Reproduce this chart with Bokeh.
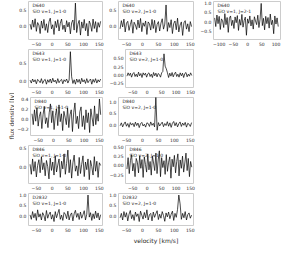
import math
from bokeh.plotting import figure
from bokeh.models import Range1d, FixedTicker, Label
from bokeh.layouts import column, row
from bokeh.embed import file_html
from bokeh.resources import INLINE

# velocity channels [km/s]
vel_10 = [-70, -66, -62, -58, -54, -50, -46, -42, -38, -34, -30, -26, -22, -18, -14, -10, -6, -2,
          2, 6, 10, 14, 18, 22, 26, 30, 34, 38, 42, 46, 50, 54, 58, 62, 66, 70, 74, 78, 82, 86,
          90, 94, 98, 102, 106, 110, 114, 118, 122, 126, 130, 134, 138, 142, 146, 150, 154]
vel_21 = [-116, -112, -108, -104, -100, -96, -92, -88, -84, -80, -76, -72, -68, -64, -60, -56,
          -52, -48, -44, -40, -36, -32, -28, -24, -20, -16, -12, -8, -4, 0, 4, 8, 12, 16, 20,
          24, 28, 32, 36, 40, 44, 48, 52, 56, 60, 64, 68, 72, 76, 80, 84, 88, 92, 96, 100, 104, 108]

# flux density [Jy]
d640_v1_10 = [0.05, -0.12, 0.18, -0.05, 0.22, -0.18, 0.10, 0.02, -0.25, 0.15,
              -0.08, 0.20, -0.15, 0.06, -0.22, 0.12, 0.24, -0.10, 0.03, -0.28,
              0.14, -0.06, 0.19, -0.17, 0.08, 0.21, -0.12, 0.02, -0.20, 0.16,
              -0.04, 0.11, -0.26, 0.09, 0.18, -0.14, 0.72, -0.22, 0.05, 0.17,
              -0.30, 0.12, -0.08, 0.20, -0.16, 0.07, -0.33, 0.15, 0.04, -0.18,
              0.21, -0.09, 0.13, -0.21, 0.10, -0.05, 0.14]
d640_v2_10 = [-0.10, 0.16, -0.04, 0.21, -0.20, 0.08, 0.14, -0.15, 0.03, 0.19,
              -0.24, 0.11, 0.02, -0.12, 0.18, -0.07, 0.23, -0.19, 0.09, -0.02,
              0.15, -0.28, 0.12, 0.06, -0.14, 0.20, -0.09, 0.17, -0.22, 0.04,
              0.13, -0.17, 0.08, 0.22, -0.11, 0.05, 0.66, -0.18, 0.10, -0.06,
              0.19, -0.25, 0.07, 0.15, -0.13, 0.24, -0.20, 0.02, 0.12, -0.31,
              0.09, 0.16, -0.11, 0.06, -0.19, 0.13, -0.03]
d640_v1_21 = [0.20, -0.25, 0.35, -0.10, 0.28, -0.40, 0.15, 0.05, -0.30, 0.42,
              -0.15, 0.22, -0.55, 0.18, 0.30, -0.20, 0.08, -0.35, 0.25, -0.05,
              0.32, -0.45, 0.12, -0.18, 0.38, -0.28, 0.06, 0.24, -0.70, 0.15,
              -0.08, 0.30, -0.22, 0.10, -0.38, 0.26, 0.04, -0.15, 0.34, -0.30,
              0.12, 0.95, -0.20, 0.18, -0.42, 0.28, -0.10, 0.22, -0.33, 0.40,
              -0.15, 0.08, -0.62, 0.30, -0.12, 0.20, -0.25]
d643_v1_10 = [0.03, -0.05, 0.06, -0.02, 0.04, -0.07, 0.05, 0.01, -0.04, 0.07,
              -0.06, 0.02, 0.05, -0.08, 0.04, -0.03, 0.06, -0.05, 0.08, -0.02,
              0.03, -0.06, 0.07, -0.04, 0.02, 0.05, -0.07, 0.04, -0.01, 0.06,
              -0.05, 0.03, 0.80, 0.12, -0.06, 0.04, -0.08, 0.06, -0.03, 0.05,
              -0.07, 0.08, -0.02, 0.04, -0.06, 0.07, -0.04, 0.02, 0.06, -0.08,
              0.05, -0.03, 0.07, -0.05, 0.04, -0.02, 0.06]
d643_v2_10 = [-0.04, 0.06, -0.02, 0.05, -0.07, 0.03, 0.07, -0.05, 0.02, -0.06,
              0.08, -0.03, 0.04, -0.08, 0.06, -0.01, 0.05, -0.07, 0.03, 0.06,
              -0.05, 0.02, -0.08, 0.07, -0.03, 0.05, -0.06, 0.04, 0.01, -0.07,
              0.06, 0.10, 0.63, 0.26, 0.18, 0.06, -0.08, 0.05, -0.04, 0.07,
              -0.06, 0.03, 0.08, -0.05, 0.02, -0.07, 0.06, -0.03, 0.05, -0.08,
              0.04, 0.07, -0.06, 0.02, -0.04, 0.06, -0.02]
d840_v1_10 = [0.10, -0.12, 0.18, -0.05, 0.22, -0.15, 0.05, 0.14, -0.20, 0.08,
              0.25, -0.10, 0.02, -0.18, 0.12, 0.30, -0.08, 0.16, -0.22, 0.06,
              0.20, -0.14, 0.28, -0.06, 0.10, -0.24, 0.15, 0.03, -0.12, 0.22,
              -0.18, 0.08, 0.18, -0.26, 0.12, 0.32, -0.10, 0.05, -0.20, 0.14,
              0.24, -0.16, 0.06, -0.22, 0.18, -0.08, 0.12, -0.28, 0.20, 0.02,
              -0.15, 0.26, -0.12, 0.10, -0.05, 0.40, 0.08]
d840_v2_10 = [-0.05, 0.08, -0.10, 0.03, 0.12, -0.07, 0.05, -0.12, 0.09, -0.02,
              0.06, -0.09, 0.11, -0.04, 0.07, -0.13, 0.04, 0.10, -0.06, 0.02,
              -0.11, 0.08, 0.05, -0.08, 0.12, -0.03, 0.06, -0.10, 1.25, -0.25,
              0.09, -0.06, 0.03, 0.11, -0.09, 0.05, -0.04, 0.13, -0.07, 0.08,
              -0.12, 0.06, 0.14, -0.05, 0.09, -0.10, 0.04, 0.12, -0.08, 0.07,
              -0.03, 0.10, -0.11, 0.06, 0.02, -0.08, 0.09]
d846_v1_10 = [0.08, -0.18, 0.22, -0.10, 0.15, -0.25, 0.05, 0.20, -0.14, 0.28,
              -0.06, 0.12, -0.22, 0.18, 0.02, -0.30, 0.24, -0.08, 0.14, -0.20,
              0.30, -0.12, 0.06, 0.22, -0.26, 0.16, -0.04, 0.35, -0.18, 0.10,
              0.45, -0.14, 0.20, -0.28, 0.12, 0.32, -0.10, 0.04, -0.22, 0.26,
              -0.16, 0.08, 0.30, -0.24, 0.14, -0.06, 0.22, -0.32, 0.18, 0.02,
              -0.20, 0.28, -0.10, 0.16, -0.26, 0.12, 0.05]
d846_v2_10 = [-0.10, 0.20, -0.22, 0.12, 0.28, -0.15, 0.05, -0.30, 0.18, 0.08,
              -0.20, 0.25, -0.08, 0.15, -0.32, 0.22, 0.02, -0.18, 0.30, -0.12,
              0.10, -0.26, 0.24, 0.06, -0.14, 0.32, -0.22, 0.14, 0.38, -0.30,
              0.20, -0.06, 0.12, -0.24, 0.28, -0.16, 0.08, 0.22, -0.34, 0.16,
              -0.04, 0.26, -0.20, 0.10, 0.30, -0.28, 0.14, -0.08, 0.24, -0.18,
              0.06, 0.32, -0.14, 0.18, -0.30, 0.10, -0.05]
d2832_v1_10 = [0.05, -0.15, 0.20, -0.08, 0.12, -0.20, 0.28, -0.05, 0.10, -0.18,
               0.15, 0.02, -0.22, 0.25, -0.10, 0.08, 0.18, -0.14, 0.06, -0.25,
               0.20, -0.08, 0.12, 0.30, -0.15, 0.04, -0.20, 0.16, 0.08, -0.12,
               0.22, -0.18, 0.05, 0.14, -0.22, 0.10, 0.26, -0.06, 0.12, -0.16,
               0.18, -0.10, 0.06, 0.24, -0.18, 0.08, 0.95, -0.05, 0.15, -0.20,
               0.10, -0.12, 0.22, -0.08, 0.14, -0.18, 0.06]
d2832_v2_10 = [-0.08, 0.12, -0.18, 0.20, -0.05, 0.15, -0.22, 0.08, 0.25, -0.12,
               0.06, -0.20, 0.18, -0.02, 0.10, -0.25, 0.22, 0.04, -0.14, 0.16,
               -0.08, 0.28, -0.18, 0.06, 0.12, -0.22, 0.18, -0.06, 0.10, 0.24,
               -0.16, 0.08, -0.10, 0.20, 0.02, -0.24, 0.14, -0.04, 0.18, -0.12,
               0.08, 0.22, -0.20, 0.12, -0.06, 0.30, 0.95, 0.55, -0.15, 0.12,
               -0.08, 0.20, -0.18, 0.06, 0.14, -0.10, 0.04]

# tick labels
xticks_10 = [-50, 0, 50, 100, 150]
xlabels_10 = ["\u221250", "0", "50", "100", "150"]
xticks_21 = [-100, -50, 0, 50, 100]
xlabels_21 = ["\u2212100", "\u221250", "0", "50", "100"]
yt_a = [0.0, 0.5]
yl_a = ["0.0", "0.5"]
yt_b = [-0.25, 0.0, 0.25, 0.5]
yl_b = ["\u22120.25", "0.00", "0.25", "0.50"]
yt_c = [-0.2, 0.0, 0.2, 0.4]
yl_c = ["\u22120.2", "0.0", "0.2", "0.4"]
yt_d = [0.0, 0.5, 1.0]
yl_d = ["0.0", "0.5", "1.0"]
yt_e = [-0.5, 0.0, 0.5, 1.0]
yl_e = ["\u22120.5", "0.0", "0.5", "1.0"]

TXT = "#262626"
FONT = "DejaVu Sans"
TICK_FS = "4.5px"


def panel(vel, flux, src, line, xr, yr, xt, xl, yt, yl, left, right, top, bottom, fw, fh,
          xlabel=None):
    p = figure(width=left + fw + right, height=top + fh + bottom,
               x_range=Range1d(*xr), y_range=Range1d(*yr),
               output_backend="svg", toolbar_location=None,
               min_border_left=left, min_border_right=right,
               min_border_top=top, min_border_bottom=bottom)
    p.grid.visible = False
    p.outline_line_color = "#cccccc"
    p.outline_line_width = 1
    p.background_fill_color = "white"
    p.border_fill_color = "white"
    for ax in (p.xaxis[0], p.yaxis[0]):
        ax.axis_line_color = None
        ax.major_tick_line_color = None
        ax.major_tick_out = 0
        ax.major_tick_in = 0
        ax.minor_tick_line_color = None
        ax.major_label_standoff = 2
        ax.major_label_text_font = FONT
        ax.major_label_text_font_size = TICK_FS
        ax.major_label_text_color = TXT
        ax.axis_label_text_font = FONT
        ax.axis_label_text_font_size = "6px"
        ax.axis_label_text_font_style = "normal"
        ax.axis_label_text_color = TXT
        ax.axis_label_standoff = 2
    p.xaxis[0].ticker = FixedTicker(ticks=xt, minor_ticks=[])
    p.xaxis[0].major_label_overrides = {t: s for t, s in zip(xt, xl)}
    p.yaxis[0].ticker = FixedTicker(ticks=yt, minor_ticks=[])
    p.yaxis[0].major_label_overrides = {t: s for t, s in zip(yt, yl)}
    if xlabel:
        p.xaxis[0].axis_label = xlabel
    p.line(vel, flux, line_color="black", line_width=0.7, line_alpha=1.0)
    p.add_layout(Label(x=xr[0], y=yr[1], x_offset=4, y_offset=-1.5, text=src,
                       text_baseline="top", text_font=FONT, text_font_size=TICK_FS,
                       text_color=TXT))
    p.add_layout(Label(x=xr[0], y=yr[1], x_offset=4, y_offset=-7, text=line,
                       text_baseline="top", text_font=FONT, text_font_size=TICK_FS,
                       text_color=TXT))
    return p


XR10 = (-75, 160)
XR21 = (-120, 116)
FH = 40
# column geometry: (left border, frame width, right border)
C1 = (14, 74, 4)
C2 = (12, 75, 4)
C3 = (12, 71, 2)
TOTAL_H = 48 * 4 + 54


def mk(col, vel, flux, src, line, xr, yr, xt, xl, yt, yl, last=False, xlabel=None):
    left, fw, right = col
    return panel(vel, flux, src, line, xr, yr, xt, xl, yt, yl, left, right, 1, 13 if last else 7,
                 fw, FH, xlabel=xlabel)


p11 = mk(C1, vel_10, d640_v1_10, "D640", "SiO v=1, J=1-0", XR10, (-0.44, 0.77), xticks_10, xlabels_10, yt_a, yl_a)
p12 = mk(C2, vel_10, d640_v2_10, "D640", "SiO v=2, J=1-0", XR10, (-0.44, 0.77), xticks_10, xlabels_10, yt_a, yl_a)
p13 = mk(C3, vel_21, d640_v1_21, "D640", "SiO v=1, J=2-1", XR21, (-0.92, 1.05), xticks_21, xlabels_21, yt_e, yl_e)
p21 = mk(C1, vel_10, d643_v1_10, "D643", "SiO v=1, J=1-0", XR10, (-0.17, 0.86), xticks_10, xlabels_10, yt_a, yl_a)
p22 = mk(C2, vel_10, d643_v2_10, "D643", "SiO v=2, J=1-0", XR10, (-0.38, 0.76), xticks_10, xlabels_10, yt_b, yl_b)
p31 = mk(C1, vel_10, d840_v1_10, "D840", "SiO v=1, J=1-0", XR10, (-0.34, 0.43), xticks_10, xlabels_10, yt_c, yl_c)
p32 = mk(C2, vel_10, d840_v2_10, "D840", "SiO v=2, J=1-0", XR10, (-0.48, 1.2), xticks_10, xlabels_10, yt_d, yl_d)
p41 = mk(C1, vel_10, d846_v1_10, "D846", "SiO v=1, J=1-0", XR10, (-0.42, 0.57), xticks_10, xlabels_10, yt_a, yl_a)
p42 = mk(C2, vel_10, d846_v2_10, "D846", "SiO v=2, J=1-0", XR10, (-0.48, 0.52), xticks_10, xlabels_10, yt_b, yl_b)
p51 = mk(C1, vel_10, d2832_v1_10, "D2832", "SiO v=1, J=1-0", XR10, (-0.43, 1.02), xticks_10, xlabels_10, yt_d, yl_d,
         last=True)
p52 = mk(C2, vel_10, d2832_v2_10, "D2832", "SiO v=2, J=1-0", XR10, (-0.43, 1.02), xticks_10, xlabels_10, yt_d, yl_d,
         last=True, xlabel="velocity [km/s]")

# shared y-axis title in its own narrow strip
ylab = figure(width=14, height=TOTAL_H, x_range=Range1d(0, 1), y_range=Range1d(0, 1),
              output_backend="svg", toolbar_location=None,
              x_axis_location=None, y_axis_location=None,
              min_border_left=0, min_border_right=0, min_border_top=0, min_border_bottom=0)
ylab.grid.visible = False
ylab.outline_line_color = None
ylab.add_layout(Label(x=0.82, y=0.53, text="flux density [Jy]", angle=math.pi / 2,
                      text_align="center", text_baseline="middle", text_font=FONT,
                      text_font_size="6px", text_color=TXT))

grid = column(
    row(p11, p12, p13),
    row(p21, p22),
    row(p31, p32),
    row(p41, p42),
    row(p51, p52),
)
layout = row(ylab, grid)

open("out.html", "w").write(file_html(layout, INLINE))
